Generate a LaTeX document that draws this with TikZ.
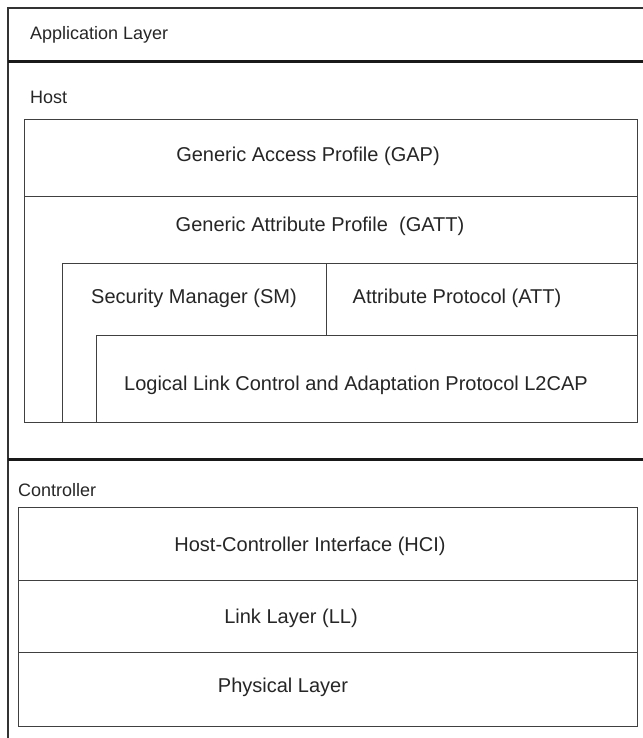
\documentclass[tikz,border=0pt]{standalone}
\usepackage{fontspec}
\setmainfont{Liberation Sans}
\usetikzlibrary{positioning}

\begin{document}
\begin{tikzpicture}[
    x=1bp, y=-1bp,
    font=\fontsize{20bp}{24bp}\selectfont,
    layerbox/.style={rectangle, draw=black!75, fill=white, line width=1.3bp, anchor=north west, inner sep=0pt},
    boxtext/.style={inner sep=0pt, text=black!85},
    caption/.style={anchor=west, inner sep=0pt, text=black!85, font=\fontsize{18bp}{22bp}\selectfont},
    divider/.style={line width=3bp, draw=black!90}
]
\useasboundingbox (0,0) rectangle (643,738);
% outer frame, runs off the right and bottom
\draw[line width=2bp, draw=black!80] (8,750) -- (8,8) -- (660,8);
\draw[divider] (8,62) -- (660,62);
\draw[divider] (8,459) -- (660,459);
\node[caption] (app) at (30,35) {Application Layer};
\node[caption] (hostlbl) at (30,97) {Host};
\node[caption] (ctrllbl) at (18,490) {Controller};
% host stack
\node[layerbox, minimum width=613bp, minimum height=303bp] (host) at (24,119) {};
\node[layerbox, minimum width=613bp, minimum height=77bp] (gap) at (24,119) {};
\node[layerbox, minimum width=264bp, minimum height=159bp] (sm) at (62,263) {};
\node[layerbox, minimum width=311bp, minimum height=72bp] (att) at (326,263) {};
\node[layerbox, minimum width=541bp, minimum height=87bp] (l2cap) at (96,335) {};
\node[boxtext] (gaptxt) at (308,156) {Generic Access Profile (GAP)};
\node[boxtext] (gatttxt) at (320,226) {Generic Attribute Profile\ \ (GATT)};
\node[boxtext] (smtxt) at (194,298) {Security Manager (SM)};
\node[boxtext] (atttxt) at (457,298) {Attribute Protocol (ATT)};
\node[boxtext] (l2captxt) at (356,385) {Logical Link Control and Adaptation Protocol L2CAP};
% controller stack
\node[layerbox, minimum width=619bp, minimum height=73bp] (hci) at (18,507) {};
\node[layerbox, minimum width=619bp, minimum height=72bp] (ll) at (18,580) {};
\node[layerbox, minimum width=619bp, minimum height=74bp] (phy) at (18,652) {};
\node[boxtext] (hcitxt) at (310,546) {Host-Controller Interface (HCI)};
\node[boxtext] (lltxt) at (291,618) {Link Layer (LL)};
\node[boxtext] (phytxt) at (283,687) {Physical Layer};
\end{tikzpicture}
\end{document}
